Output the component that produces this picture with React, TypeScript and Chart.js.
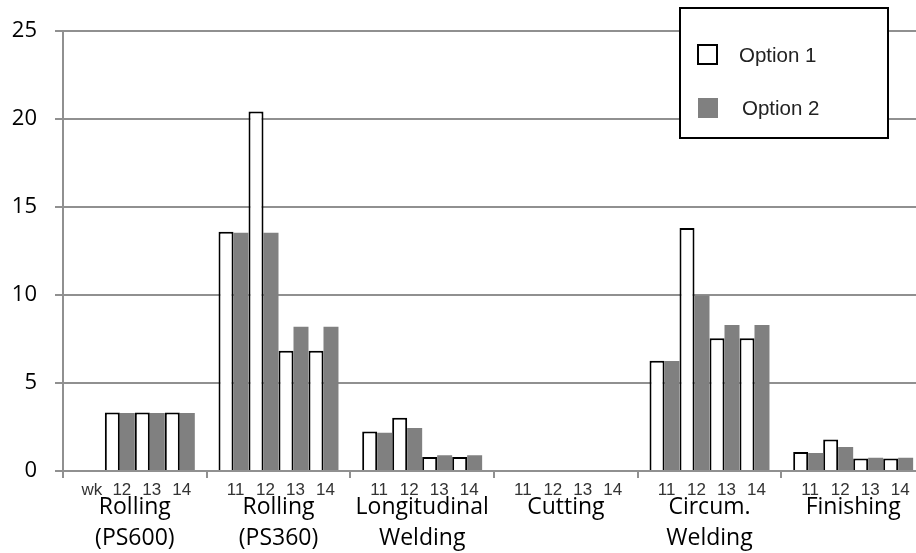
import React, { useEffect, useRef } from "react";
import { Chart, registerables } from "chart.js";

Chart.register(...registerables);

// ---- data ----
const groupLabels: string[][] = [
  ["Rolling", "(PS600)"],
  ["Rolling", "(PS360)"],
  ["Longitudinal", "Welding"],
  ["Cutting"],
  ["Circum.", "Welding"],
  ["Finishing"],
];
const weekLabels = ["11", "12", "13", "14"];
const firstGroupWeekLabels = ["wk", "12", "13", "14"];
const seriesNames = ["Option 1", "Option 2"];

// values per group, per week (11..14)
const option1: (number | null)[][] = [
  [null, 3.33, 3.33, 3.33],
  [13.6, 20.43, 6.83, 6.83],
  [2.24, 3.02, 0.8, 0.8],
  [null, null, null, null],
  [6.27, 13.82, 7.55, 7.55],
  [1.08, 1.79, 0.71, 0.71],
];
const option2: (number | null)[][] = [
  [null, 3.3, 3.3, 3.3],
  [13.55, 13.55, 8.2, 8.2],
  [2.18, 2.44, 0.89, 0.89],
  [null, null, null, null],
  [6.25, 9.98, 8.3, 8.3],
  [1.02, 1.36, 0.75, 0.75],
];
const yMin = 0;
const yMax = 25;
const yStep = 5;

// ---- styles ----
const GRID = "#909090";
const GRAY = "#808080";
const LABEL_FONT = '"Open Sans", "DejaVu Sans", sans-serif';
const THIN_FONT = '"Liberation Sans", Arial, sans-serif';

const labelsPlugin = {
  id: "twoLevelLabels",
  afterDraw(chart: any) {
    const ctx = chart.ctx;
    const xs = chart.scales.x;
    const bottom = chart.chartArea.bottom;
    ctx.save();
    ctx.textAlign = "center";
    ctx.textBaseline = "alphabetic";
    // week labels
    ctx.font = `17px ${THIN_FONT}`;
    ctx.fillStyle = "#333";
    for (let g = 0; g < groupLabels.length; g++) {
      for (let w = 0; w < weekLabels.length; w++) {
        const e1 = chart.getDatasetMeta(2 * w).data[g];
        const e2 = chart.getDatasetMeta(2 * w + 1).data[g];
        const x = (e1.x + e2.x) / 2 + 2;
        const txt = g === 0 ? firstGroupWeekLabels[w] : weekLabels[w];
        ctx.fillText(txt, x, bottom + 24);
      }
    }
    // group labels
    ctx.font = `23px ${LABEL_FONT}`;
    ctx.fillStyle = "#000";
    groupLabels.forEach((lines, g) => {
      const x = xs.getPixelForValue(g);
      lines.forEach((ln, i) => ctx.fillText(ln, x, bottom + 43 + i * 31));
    });
    ctx.restore();
  },
};

const legendPlugin = {
  id: "boxLegend",
  afterDraw(chart: any) {
    const ctx = chart.ctx;
    ctx.save();
    ctx.fillStyle = "#fff";
    ctx.fillRect(679, 7, 210, 132);
    ctx.strokeStyle = "#000";
    ctx.lineWidth = 2;
    ctx.strokeRect(680, 8, 208, 130);
    // Option 1
    ctx.lineWidth = 2;
    ctx.strokeRect(698, 45, 19, 19);
    // Option 2
    ctx.fillStyle = GRAY;
    ctx.fillRect(698, 98, 20, 20);
    ctx.fillStyle = "#222";
    ctx.font = `20.5px ${THIN_FONT}`;
    ctx.textAlign = "left";
    ctx.textBaseline = "alphabetic";
    ctx.fillText(seriesNames[0], 739, 62);
    ctx.fillText(seriesNames[1], 742, 115);
    ctx.restore();
  },
};

export default function App() {
  const ref = useRef<HTMLCanvasElement>(null);
  useEffect(() => {
    const datasets: any[] = [];
    for (let w = 0; w < weekLabels.length; w++) {
      datasets.push({
        label: `${seriesNames[0]} ${weekLabels[w]}`,
        data: option1.map((g) => g[w]),
        backgroundColor: "#ffffff",
        borderColor: "#000000",
        borderWidth: 2,
      });
      datasets.push({
        label: `${seriesNames[1]} ${weekLabels[w]}`,
        data: option2.map((g) => g[w]),
        backgroundColor: GRAY,
        borderWidth: 0,
      });
    }
    const chart = new Chart(ref.current!, {
      type: "bar",
      data: { labels: groupLabels.map((l) => l.join(" ")), datasets },
      options: {
        animation: false,
        responsive: false,
        devicePixelRatio: 1,
        datasets: {
          bar: { categoryPercentage: 0.835, barPercentage: 1 },
        },
        layout: { padding: { top: 24, right: 5, bottom: 0, left: 0 } },
        plugins: { legend: { display: false }, tooltip: { enabled: false } },
        scales: {
          x: {
            afterFit: (s: any) => {
              s.height = 82;
            },
            ticks: { display: false },
            grid: {
              display: true,
              drawOnChartArea: false,
              drawTicks: true,
              tickLength: 7,
              color: GRID,
              lineWidth: 2,
              offset: true,
            },
            border: { display: true, color: GRID, width: 2 },
          },
          y: {
            min: yMin,
            max: yMax,
            afterFit: (s: any) => {
              s.width = 63;
            },
            ticks: {
              stepSize: yStep,
              padding: 18,
              color: "#000",
              font: { family: LABEL_FONT, size: 22 },
            },
            grid: { color: GRID, lineWidth: 2, tickLength: 8, drawTicks: true },
            border: { display: true, color: GRID, width: 2 },
          },
        },
      },
      plugins: [labelsPlugin, legendPlugin],
    });
    return () => chart.destroy();
  }, []);
  return (
    <div
      style={{
        position: "fixed",
        left: 0,
        top: 0,
        width: 916,
        height: 553,
        overflow: "hidden",
        background: "#fff",
      }}
    >
      <canvas ref={ref} width={930} height={553} style={{ display: "block", width: 930, height: 553 }} />
    </div>
  );
}
